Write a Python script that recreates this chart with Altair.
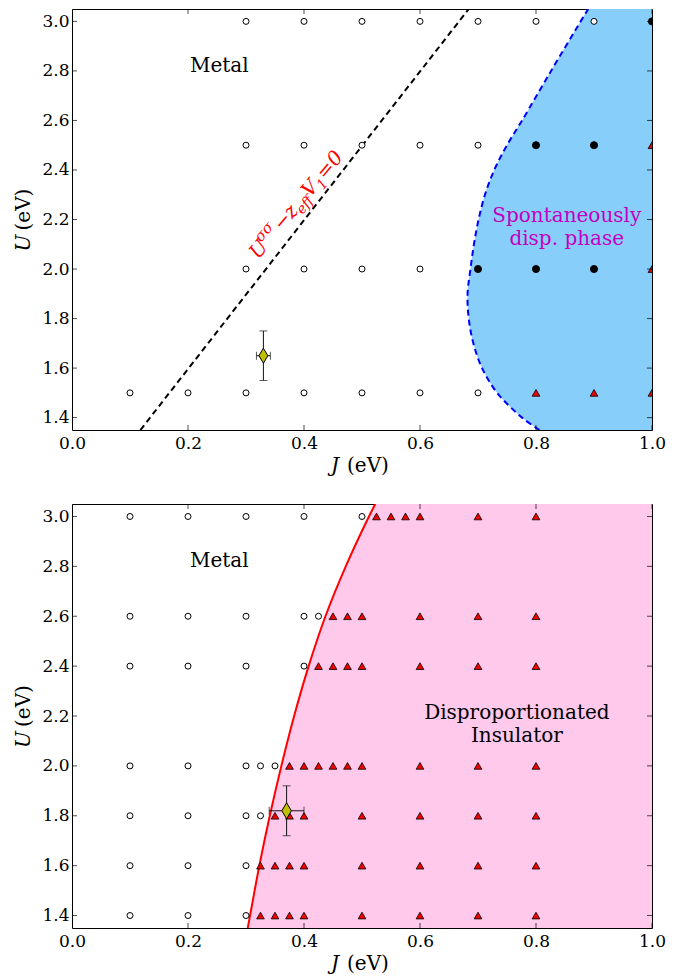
import altair as alt
import pandas as pd

FONT = "DejaVu Serif"

# ---------------- axis values ----------------
x_ticks = [0.0, 0.2, 0.4, 0.6, 0.8, 1.0]
y_ticks = [1.4, 1.6, 1.8, 2.0, 2.2, 2.4, 2.6, 2.8, 3.0]
x_domain = [0.0, 1.0]
y_domain = [1.35, 3.05]
x_title = ["J", "(eV)"]
y_title = ["U", "(eV)"]

# ---------------- top panel data ----------------
top_open_J = [0.3, 0.4, 0.5, 0.6, 0.7, 0.8, 0.9,
              0.3, 0.4, 0.5, 0.6, 0.7,
              0.3, 0.4, 0.5, 0.6,
              0.1, 0.2, 0.3, 0.4, 0.5, 0.6, 0.7]
top_open_U = [3.0, 3.0, 3.0, 3.0, 3.0, 3.0, 3.0,
              2.5, 2.5, 2.5, 2.5, 2.5,
              2.0, 2.0, 2.0, 2.0,
              1.5, 1.5, 1.5, 1.5, 1.5, 1.5, 1.5]
top_filled_J = [1.0, 0.8, 0.9, 0.7, 0.8, 0.9]
top_filled_U = [3.0, 2.5, 2.5, 2.0, 2.0, 2.0]
top_tri_J = [1.0, 1.0, 0.8, 0.9, 1.0]
top_tri_U = [2.5, 2.0, 1.5, 1.5, 1.5]
top_bound_J = [0.890, 0.877, 0.826, 0.776, 0.750, 0.728, 0.712, 0.701, 0.693, 0.687,
               0.682, 0.684, 0.692, 0.707, 0.733, 0.776, 0.806]
top_bound_U = [3.05, 3.0, 2.8, 2.6, 2.5, 2.4, 2.3, 2.2, 2.1, 2.0,
               1.9, 1.8, 1.7, 1.6, 1.5, 1.4, 1.35]
top_dash_J = [0.118, 0.684]
top_dash_U = [1.35, 3.05]
top_diam_J, top_diam_U, top_diam_xerr, top_diam_yerr = [0.33], [1.65], [0.012], [0.10]
top_text = ["Metal", "Spontaneously\ndisp. phase"]
top_text_J = [0.254, 0.853]
top_text_U = [2.797, 2.189]
top_text_color = ["black", "#C400C4"]

# ---------------- bottom panel data ----------------
bot_open_J = [0.1, 0.2, 0.3, 0.4, 0.5,
              0.1, 0.2, 0.3, 0.4, 0.425,
              0.1, 0.2, 0.3, 0.4,
              0.1, 0.2, 0.3, 0.325, 0.35,
              0.1, 0.2, 0.3, 0.325,
              0.1, 0.2, 0.3,
              0.1, 0.2, 0.3]
bot_open_U = [3.0, 3.0, 3.0, 3.0, 3.0,
              2.6, 2.6, 2.6, 2.6, 2.6,
              2.4, 2.4, 2.4, 2.4,
              2.0, 2.0, 2.0, 2.0, 2.0,
              1.8, 1.8, 1.8, 1.8,
              1.6, 1.6, 1.6,
              1.4, 1.4, 1.4]
bot_tri_J = [0.525, 0.55, 0.575, 0.6, 0.7, 0.8,
             0.45, 0.475, 0.5, 0.6, 0.7, 0.8,
             0.425, 0.45, 0.475, 0.5, 0.6, 0.7, 0.8,
             0.375, 0.4, 0.425, 0.45, 0.475, 0.5, 0.6, 0.7, 0.8,
             0.35, 0.375, 0.4, 0.5, 0.6, 0.7, 0.8,
             0.325, 0.35, 0.375, 0.4, 0.5, 0.6, 0.7, 0.8,
             0.325, 0.35, 0.375, 0.4, 0.5, 0.6, 0.7, 0.8]
bot_tri_U = [3.0, 3.0, 3.0, 3.0, 3.0, 3.0,
             2.6, 2.6, 2.6, 2.6, 2.6, 2.6,
             2.4, 2.4, 2.4, 2.4, 2.4, 2.4, 2.4,
             2.0, 2.0, 2.0, 2.0, 2.0, 2.0, 2.0, 2.0, 2.0,
             1.8, 1.8, 1.8, 1.8, 1.8, 1.8, 1.8,
             1.6, 1.6, 1.6, 1.6, 1.6, 1.6, 1.6, 1.6,
             1.4, 1.4, 1.4, 1.4, 1.4, 1.4, 1.4, 1.4]
bot_curve_J = [0.303, 0.307, 0.323, 0.341, 0.361, 0.383, 0.408, 0.437, 0.472, 0.512, 0.523]
bot_curve_U = [1.35, 1.4, 1.6, 1.8, 2.0, 2.2, 2.4, 2.6, 2.8, 3.0, 3.05]
bot_diam_J, bot_diam_U, bot_diam_xerr, bot_diam_yerr = [0.37], [1.82], [0.03], [0.10]
bot_text = ["Metal", "Disproportionated\nInsulator"]
bot_text_J = [0.254, 0.767]
bot_text_U = [2.797, 2.187]
bot_text_color = ["black", "black"]

# formula annotation (rotated along the dashed line)
formula_J = [0.321]
formula_U = [2.036]
formula_pieces = ["U", "σσ", "−", "z", "eff", "V", "1", "=0"]

# ---------------- helpers ----------------
xs = alt.Scale(domain=x_domain, nice=False, zero=False)
ys = alt.Scale(domain=y_domain, nice=False, zero=False)
AX = dict(labelFont=FONT, labelFontSize=17, labelColor="black", title=None,
          domain=False, ticks=False, tickSize=0, grid=False, labelFlush=False, format=".1f")
x_axis = alt.Axis(values=x_ticks, labelPadding=5, **AX)
y_axis = alt.Axis(values=y_ticks, labelPadding=3, **AX)


def X(f):
    return alt.X(f, type="quantitative", scale=xs, axis=x_axis)


def Y(f):
    return alt.Y(f, type="quantitative", scale=ys, axis=y_axis)


def points(J, U, **mark):
    df = pd.DataFrame({"J": J, "U": U})
    return alt.Chart(df).mark_point(clip=True, **mark).encode(x=X("J"), y=Y("U"))


def tick_layers():
    yt = pd.DataFrame({"J": [d for t in y_ticks for d in x_domain],
                       "U": [t for t in y_ticks for d in x_domain]})
    xt = pd.DataFrame({"J": [t for t in x_ticks for d in y_domain],
                       "U": [d for t in x_ticks for d in y_domain]})
    a = alt.Chart(yt).mark_tick(orient="horizontal", size=10, thickness=1,
                                color="black", clip=True).encode(x=X("J"), y=Y("U"))
    b = alt.Chart(xt).mark_tick(orient="vertical", size=10, thickness=1,
                                color="black", clip=True).encode(x=X("J"), y=Y("U"))
    return [a, b]


def title_layers(h, w):
    one = pd.DataFrame({"k": [0]})
    lay = []
    lay.append(alt.Chart(one).mark_text(text=x_title[0], font=FONT, fontStyle="italic", fontSize=20,
                                        color="black", align="left", baseline="alphabetic", dx=-31)
               .encode(x=alt.value(w / 2), y=alt.value(h + 42)))
    lay.append(alt.Chart(one).mark_text(text=x_title[1], font=FONT, fontSize=20,
                                        color="black", align="left", baseline="alphabetic", dx=-15)
               .encode(x=alt.value(w / 2), y=alt.value(h + 42)))
    lay.append(alt.Chart(one).mark_text(text=y_title[0], font=FONT, fontStyle="italic", fontSize=20,
                                        color="black", align="left", baseline="alphabetic",
                                        angle=270, dx=-32)
               .encode(x=alt.value(-42), y=alt.value(h / 2)))
    lay.append(alt.Chart(one).mark_text(text=y_title[1], font=FONT, fontSize=20,
                                        color="black", align="left", baseline="alphabetic",
                                        angle=270, dx=-11)
               .encode(x=alt.value(-42), y=alt.value(h / 2)))
    return lay


DIAMOND = "M0,-1L0.6,0L0,1L-0.6,0Z"


def errbar_diamond(J, U, xerr, yerr, dsize):
    df = pd.DataFrame({"J": J, "U": U, "xerr": xerr, "yerr": yerr})
    base = alt.Chart(df).transform_calculate(
        Jlo="datum.J - datum.xerr", Jhi="datum.J + datum.xerr",
        Ulo="datum.U - datum.yerr", Uhi="datum.U + datum.yerr")
    c = "#111111"
    vr = base.mark_rule(color=c, strokeWidth=1).encode(x=X("J"), y=Y("Ulo"), y2="Uhi:Q")
    hr = base.mark_rule(color=c, strokeWidth=1).encode(x=X("Jlo"), x2="Jhi:Q", y=Y("U"))
    cap_lo = base.mark_tick(orient="horizontal", size=8, thickness=1, color=c).encode(x=X("J"), y=Y("Ulo"))
    cap_hi = base.mark_tick(orient="horizontal", size=8, thickness=1, color=c).encode(x=X("J"), y=Y("Uhi"))
    capl = base.mark_tick(orient="vertical", size=8, thickness=1, color=c).encode(x=X("Jlo"), y=Y("U"))
    caph = base.mark_tick(orient="vertical", size=8, thickness=1, color=c).encode(x=X("Jhi"), y=Y("U"))
    dia = base.mark_point(shape=DIAMOND, size=dsize, filled=True, fill="#BFBF00",
                          stroke="black", strokeWidth=1, opacity=1).encode(x=X("J"), y=Y("U"))
    return [vr, hr, cap_lo, cap_hi, capl, caph, dia]


def labels(txt, J, U, col, font=FONT):
    df = pd.DataFrame({"t": txt, "J": J, "U": U, "c": col})
    return alt.Chart(df).mark_text(font=font, fontSize=20, align="center", baseline="alphabetic",
                                   lineBreak="\n", lineHeight=22.5).encode(
        x=X("J"), y=Y("U"), text="t:N", color=alt.Color("c:N", scale=None))


OPEN = dict(shape="circle", size=36, filled=True, fill="white", stroke="black",
            strokeWidth=1, opacity=1)
FILLED = dict(shape="circle", size=50, filled=True, fill="black", stroke="black",
              strokeWidth=1, opacity=1)
TRI = dict(shape="triangle-up", size=60, filled=True, fill="#EE0000", stroke="black",
           strokeWidth=0.8, opacity=1)

W, H_TOP, H_BOT = 580, 421, 424

# ---------------- top panel ----------------
bound_df = pd.DataFrame({"J": top_bound_J, "U": top_bound_U})
top_area = alt.Chart(bound_df).mark_area(orient="horizontal", color="#87CEFA", opacity=1,
                                         interpolate="catmull-rom", clip=True).encode(
    y=Y("U"), x=X("J"), x2=alt.datum(1.0))
top_bline = alt.Chart(bound_df).mark_line(color="#0000FF", strokeWidth=2, strokeDash=[6, 4],
                                          interpolate="catmull-rom", clip=True).encode(
    x=X("J"), y=Y("U"), order=alt.Order("U:Q"))
dash_df = pd.DataFrame({"J": top_dash_J, "U": top_dash_U})
top_dash = alt.Chart(dash_df).mark_line(color="black", strokeWidth=2, strokeDash=[6, 4],
                                        clip=True).encode(x=X("J"), y=Y("U"))

fdf = pd.DataFrame({"J": formula_J, "U": formula_U})
piece_style = [(20, 0, 0), (15, 15, -9), (20, 37, 0), (20, 53, 0),
               (14, 63, 5), (20, 81, 0), (14, 95, 5), (20, 104, 0)]
formula_layers = []
for txt, (fs, dx, dy) in zip(formula_pieces, piece_style):
    formula_layers.append(
        alt.Chart(fdf).mark_text(text=txt, font=FONT, fontStyle="italic", fontSize=fs,
                                 color="#FF0000", align="left", baseline="alphabetic",
                                 angle=310, dx=dx, dy=dy).encode(x=X("J"), y=Y("U")))

top = alt.layer(
    top_area, top_bline, top_dash,
    *formula_layers,
    points(top_open_J, top_open_U, **OPEN),
    points(top_filled_J, top_filled_U, **FILLED),
    points(top_tri_J, top_tri_U, **TRI),
    *errbar_diamond(top_diam_J, top_diam_U, top_diam_xerr, top_diam_yerr, 225),
    labels(top_text, top_text_J, top_text_U, top_text_color),
    *tick_layers(),
    *title_layers(H_TOP, W),
).properties(width=W, height=H_TOP)

# ---------------- bottom panel ----------------
curve_df = pd.DataFrame({"J": bot_curve_J, "U": bot_curve_U})
bot_area = alt.Chart(curve_df).mark_area(orient="horizontal", color="#FFC9EC", opacity=1,
                                         interpolate="catmull-rom", clip=True).encode(
    y=Y("U"), x=X("J"), x2=alt.datum(1.0))
bot_line = alt.Chart(curve_df).mark_line(color="#FF0000", strokeWidth=2,
                                         interpolate="catmull-rom", clip=True).encode(
    x=X("J"), y=Y("U"), order=alt.Order("U:Q"))

bottom = alt.layer(
    bot_area, bot_line,
    points(bot_open_J, bot_open_U, **OPEN),
    points(bot_tri_J, bot_tri_U, **TRI),
    *errbar_diamond(bot_diam_J, bot_diam_U, bot_diam_xerr, bot_diam_yerr, 256),
    labels(bot_text, bot_text_J, bot_text_U, bot_text_color),
    *tick_layers(),
    *title_layers(H_BOT, W),
).properties(width=W, height=H_BOT)

chart = alt.vconcat(top, bottom, spacing=26).properties(
    padding={"left": 5, "top": 0, "right": 5, "bottom": 0},
    background="white",
).configure(
    font=FONT
).configure_view(
    stroke="black", strokeWidth=1
).configure_axis(
    labelFont=FONT
)

chart.save("out.html", embed_options={"renderer": "svg", "actions": False})
